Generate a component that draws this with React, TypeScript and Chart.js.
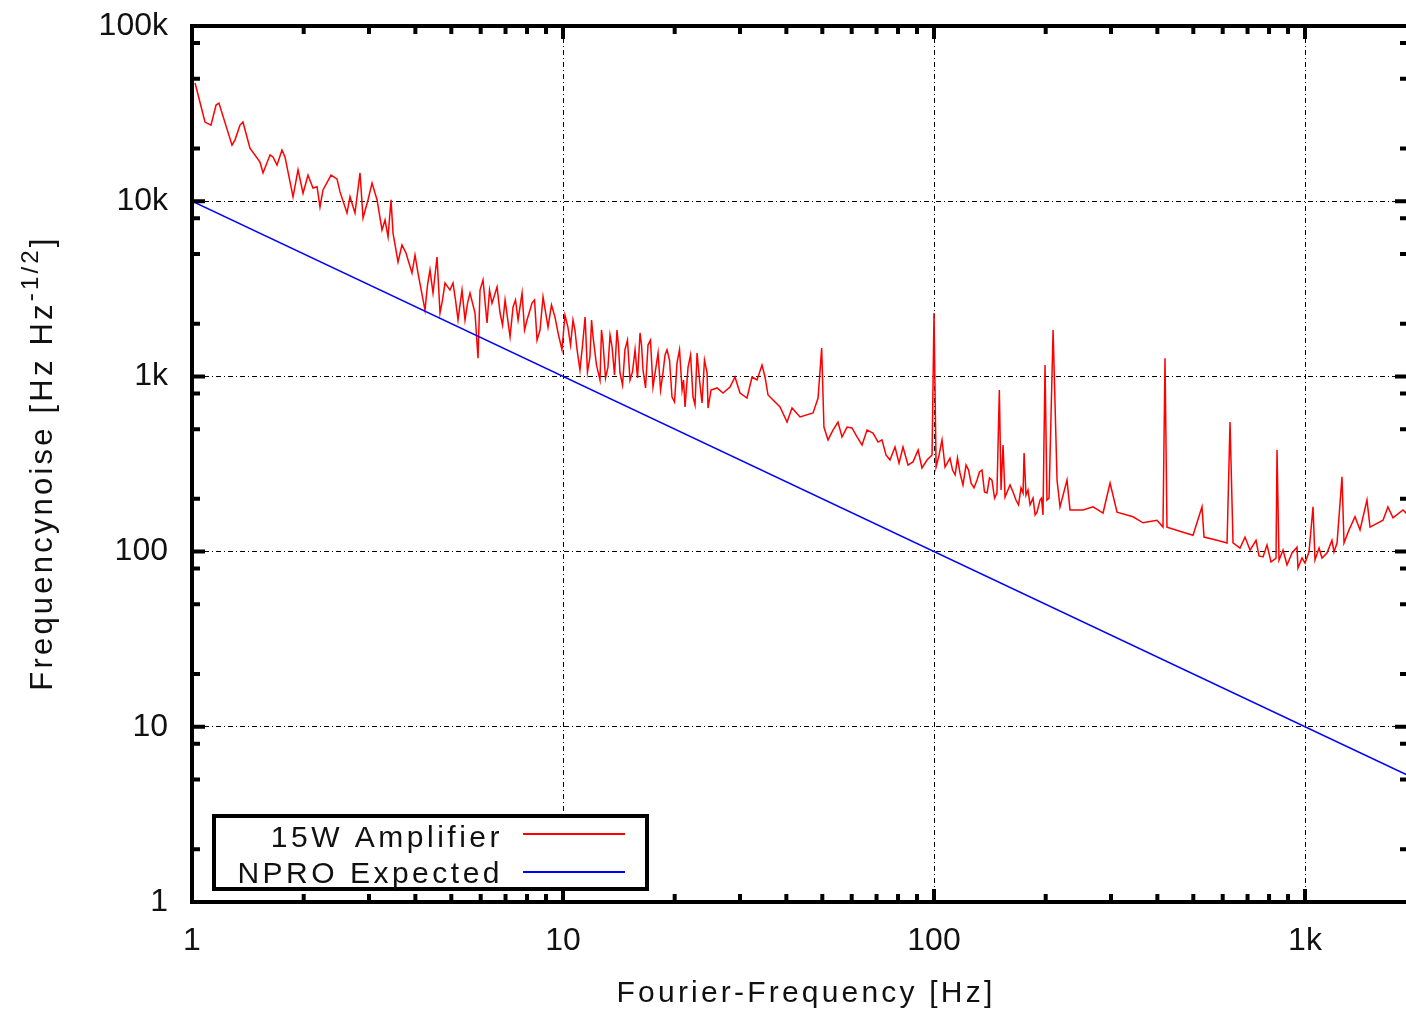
import React, { useEffect, useRef } from "react";
import { Chart, registerables } from "chart.js";

Chart.register(...registerables);

// ---- data ----
// main trace of the 15W amplifier spectrum
const AMP_FREQ = [
  1.019, 1.084, 1.125, 1.161, 1.182, 1.282, 1.306, 1.347, 1.372, 1.433,
  1.525, 1.554, 1.623, 1.653, 1.695, 1.748, 1.781, 1.872, 1.931, 1.992,
  2.054, 2.119, 2.173, 2.213, 2.255, 2.37, 2.459, 2.506, 2.617, 2.666,
  2.75, 2.837, 2.891, 2.982, 3.057, 3.153, 3.252, 3.314, 3.376, 3.439,
  3.482, 3.592, 3.681, 3.774, 3.917, 3.991, 4.066, 4.246, 4.38, 4.463,
  4.575, 4.661, 4.808, 4.959, 5.052, 5.212, 5.343, 5.443, 5.615, 5.792,
  5.901, 5.975, 6.087, 6.24, 6.437, 6.641, 6.766, 6.98, 7.199, 7.335,
  7.566, 7.756, 7.999, 8.251, 8.512, 8.835, 9.112, 9.515, 9.938, 10.31,
  10.64, 10.91, 11.11, 11.47, 11.82, 12.05, 12.58, 12.82, 13.22, 13.56,
  13.98, 14.24, 14.69, 15.16, 15.64, 16.13, 16.43, 16.95, 17.48, 18.04,
  18.6, 19.07, 19.67, 20.29, 20.94, 21.33, 21.73, 22.41, 22.98, 23.7,
  24.45, 24.6, 25.06, 26.01, 27.0, 28.19, 29.08, 30.0, 31.33, 32.32,
  33.34, 34.39, 35.04, 35.7, 38.46, 40.17, 41.43, 43.54, 47.2, 48.69,
  49.8, 50.5, 53.42, 58.29, 62.02, 68.48, 72.41, 76.1, 78.5, 80.5,
  82.49, 85.1, 87.78, 90.6, 92.8, 95.75, 98.8, 100, 101.3, 105.1,
  107.1, 110.4, 114.0, 117.5, 122.0, 125.9, 130.6, 134.7, 139.0, 143.3,
  147.8, 150, 151.6, 153.5, 155.4, 160.3, 166.3, 171.6, 173.8, 174.9,
  177.0, 181.5, 184.9, 189.5, 193.1, 196.7, 199.2, 201.6, 204.2, 209.4,
  214.6, 218.6, 228.3, 232.6, 252.1, 268.3, 285.5, 298.2, 311.4, 343.9,
  365.9, 399.1, 414.2, 419.4, 424.6, 469.1, 499.0, 527.7, 534.3, 579.2,
  616.4, 627.9, 639.7, 668.0, 689.1, 711.0, 737.9, 751.6, 770.6, 789.9,
  809.8, 835.3, 840.5, 851.0, 872.4, 894.4, 922.6, 951.5, 957.4, 981.5,
  1000, 1025, 1051, 1064, 1091, 1111, 1146, 1182, 1197, 1220,
  1258, 1274, 1314, 1364, 1407, 1469, 1497, 1623, 1673, 1727,
  1837, 1895,
];
const AMP_VALUES = [
  47300, 28300, 27200, 35400, 36300, 20900, 22400, 27200, 28300, 20100,
  16700, 14500, 18400, 17900, 16100, 19600, 17900, 10600, 15100, 11100,
  14100, 11900, 12100, 9270, 11600, 14100, 13400, 11300, 8560, 10600,
  8560, 14500, 8020, 10200, 12700, 10200, 6850, 7810, 6250, 10200,
  6580, 4500, 5620, 5060, 3890, 4930, 3890, 2390, 4050, 2990,
  4800, 2300, 3410, 3110, 3410, 2100, 3110, 2100, 2990, 2300,
  1270, 3110, 3550, 2020, 2620, 3240, 2300, 2730, 1680, 2490,
  2100, 2990, 2100, 2620, 1610, 2840, 1910, 2180, 1420, 1910,
  2100, 1420, 1090, 2180, 1290, 1680, 954, 1550, 1130, 1470,
  1840, 1050, 1420, 954, 1420, 1770, 1090, 1510, 870, 1360,
  1050, 1420, 763, 1190, 836, 669, 1130, 763, 1360, 705,
  1050, 660, 836, 859, 804, 870, 992, 804, 753, 992,
  954, 1160, 992, 783, 669, 549, 660, 587, 618, 753,
  1450, 514, 494, 514, 451, 475, 434, 333, 395, 320,
  395, 312, 325, 380, 300, 333, 356, 2300, 304, 434,
  304, 342, 274, 281, 312, 246, 256, 292, 216, 256,
  216, 836, 225, 406, 205, 240, 197, 231, 216, 365,
  210, 185, 202, 168, 197, 162, 1160, 197, 202, 1840,
  256, 180, 256, 173, 173, 180, 166, 246, 168, 158,
  146, 151, 138, 1270, 138, 129, 124, 180, 121, 116,
  112, 549, 112, 104.8, 121, 102, 116, 94.4, 93.2, 109.1,
  87.2, 91.9, 380, 89.6, 102, 83.8, 98.2, 106, 80.6, 91.9,
  86.1, 99.5, 180, 89.6, 104.8, 91.9, 98.2, 116, 99.5, 112,
  267, 112, 133, 158, 133, 197, 138, 151, 180, 156,
  173, 162,
];
// additional readings inside the dense noise bands
const AMP_BAND_FREQ = [
  4.313, 4.734, 5.131, 5.53, 6.338, 6.871, 7.447, 7.876, 8.38, 8.67,
  9.311, 9.725, 10.12, 10.48, 10.77, 11.29, 11.64, 11.94, 12.31, 12.7,
  13.02, 13.39, 13.77, 14.11, 14.47, 14.92, 15.39, 15.88, 16.28, 16.69,
  17.21, 17.76, 18.32, 18.84, 19.37, 19.98, 20.61, 21.13, 22.07, 22.69,
  23.33, 24.06, 51.8, 55.1, 56.5, 60.1, 63.98, 65.99, 70.68, 74.22,
  103.2, 112.2, 115.7, 119.7, 123.9, 128.2, 132.6, 136.8, 141.1, 145.6,
  163.3, 169.0, 179.2, 187.3, 194.9,
];
const AMP_BAND_VALUES = [
  3324, 2730, 2730, 2620, 3110, 1965, 2730, 1840, 2730, 1840,
  2556, 1722, 2241, 1510, 1840, 1510, 1060, 2100, 1160, 1840,
  979, 1722, 1019, 1510, 893, 1610, 1060, 979, 1510, 859,
  1610, 1090, 836, 1325, 1240, 714, 1420, 954, 1325, 687,
  954, 1240, 434, 549, 451, 508, 406, 494, 422, 356,
  356, 292, 342, 240, 292, 231, 285, 219, 263, 202,
  219, 185, 225, 162, 202,
];
const NPRO_FREQ = [1, 2000];
const NPRO_VALUES = [10000, 5];

const SERIES_LABELS = ["15W Amplifier", "NPRO Expected"];
const SERIES_COLORS = ["#ff0000", "#0000ff"];

const X_TICKS = [1, 10, 100, 1000];
const X_TICK_LABELS = ["1", "10", "100", "1k"];
const Y_TICKS = [1, 10, 100, 1000, 10000, 100000];
const Y_TICK_LABELS = ["1", "10", "100", "1k", "10k", "100k"];
const X_MINOR_MULT = [2, 3, 4, 5, 6, 7, 8, 9];
const Y_MINOR_MULT = [2, 5, 8];

const X_TITLE = "Fourier-Frequency [Hz]";
const Y_TITLE_MAIN = "Frequencynoise [Hz Hz";
const Y_TITLE_SUP = "-1/2";
const Y_TITLE_END = "]";

const FONT_FAMILY = '"Liberation Sans", Arial, Helvetica, sans-serif';
const TEXT_COLOR = "#111111";

function ampPoints() {
  const pts = AMP_FREQ.map((f, i) => ({ x: f, y: AMP_VALUES[i] }));
  AMP_BAND_FREQ.forEach((f, i) => pts.push({ x: f, y: AMP_BAND_VALUES[i] }));
  pts.sort((a, b) => a.x - b.x);
  return pts;
}

// ---- plugins ----
const framePlugin = {
  id: "frameTicks",
  afterDatasetsDraw(chart: any) {
    const { ctx, chartArea: a, scales } = chart;
    const xs = scales.x;
    const ys = scales.y;
    ctx.save();
    ctx.strokeStyle = "#000";
    ctx.lineCap = "butt";
    ctx.lineWidth = 4;
    for (const d of X_TICKS) {
      for (const m of [1, ...X_MINOR_MULT]) {
        const v = d * m;
        if (v < xs.min || v > xs.max) continue;
        const p = xs.getPixelForValue(v);
        const len = m === 1 ? 13 : 8;
        ctx.beginPath();
        ctx.moveTo(p, a.bottom);
        ctx.lineTo(p, a.bottom - len);
        ctx.moveTo(p, a.top);
        ctx.lineTo(p, a.top + len);
        ctx.stroke();
      }
    }
    for (const d of Y_TICKS) {
      for (const m of [1, ...Y_MINOR_MULT]) {
        const v = d * m;
        if (v < ys.min || v > ys.max) continue;
        const p = ys.getPixelForValue(v);
        const len = m === 1 ? 13 : 8;
        ctx.beginPath();
        ctx.moveTo(a.left, p);
        ctx.lineTo(a.left + len, p);
        ctx.moveTo(a.right, p);
        ctx.lineTo(a.right - len, p);
        ctx.stroke();
      }
    }
    ctx.strokeRect(a.left, a.top, a.right - a.left, a.bottom - a.top);
    ctx.restore();
  },
};

const titlesPlugin = {
  id: "axisTitles",
  afterDraw(chart: any) {
    const { ctx } = chart;
    ctx.save();
    ctx.fillStyle = TEXT_COLOR;
    ctx.textBaseline = "alphabetic";
    (ctx as any).letterSpacing = "3.2px";
    ctx.font = `30px ${FONT_FAMILY}`;
    ctx.textAlign = "center";
    ctx.fillText(X_TITLE, 806, 1002);
    const mainFont = `31px ${FONT_FAMILY}`;
    const supFont = `24px ${FONT_FAMILY}`;
    ctx.textAlign = "left";
    ctx.font = mainFont;
    const wMain = ctx.measureText(Y_TITLE_MAIN).width;
    const wEnd = ctx.measureText(Y_TITLE_END).width;
    ctx.font = supFont;
    const wSup = ctx.measureText(Y_TITLE_SUP).width;
    const total = wMain + wSup + wEnd;
    ctx.translate(52, 463);
    ctx.rotate(-Math.PI / 2);
    let x0 = -total / 2;
    ctx.font = mainFont;
    ctx.fillText(Y_TITLE_MAIN, x0, 0);
    x0 += wMain;
    ctx.font = supFont;
    ctx.fillText(Y_TITLE_SUP, x0, -14);
    x0 += wSup;
    ctx.font = mainFont;
    ctx.fillText(Y_TITLE_END, x0, 0);
    ctx.restore();
  },
};

const legendPlugin = {
  id: "insideLegend",
  afterDraw(chart: any) {
    const { ctx } = chart;
    const box = { left: 214, top: 816, right: 647, bottom: 889 };
    ctx.save();
    ctx.fillStyle = "#ffffff";
    ctx.fillRect(box.left, box.top, box.right - box.left, box.bottom - box.top);
    ctx.strokeStyle = "#000";
    ctx.lineWidth = 4;
    ctx.strokeRect(box.left, box.top, box.right - box.left, box.bottom - box.top);
    ctx.font = `30px ${FONT_FAMILY}`;
    (ctx as any).letterSpacing = "3.5px";
    ctx.textAlign = "right";
    ctx.textBaseline = "alphabetic";
    ctx.fillStyle = TEXT_COLOR;
    const baselines = [847, 883];
    const lineYs = [834, 872];
    chart.data.datasets.forEach((ds: any, i: number) => {
      ctx.fillText(ds.label, 503, baselines[i]);
      ctx.strokeStyle = ds.borderColor;
      ctx.lineWidth = 2;
      ctx.beginPath();
      ctx.moveTo(523, lineYs[i]);
      ctx.lineTo(625, lineYs[i]);
      ctx.stroke();
    });
    ctx.restore();
  },
};

function ChartView() {
  const ref = useRef<HTMLCanvasElement | null>(null);
  useEffect(() => {
    document.body.style.margin = "0";
    document.body.style.overflow = "hidden";
    const canvas = ref.current;
    if (!canvas) return;
    const tickFont = { family: FONT_FAMILY, size: 32 };
    const chart = new Chart(canvas, {
      type: "line",
      data: {
        datasets: [
          {
            label: SERIES_LABELS[0],
            data: ampPoints(),
            borderColor: SERIES_COLORS[0],
            backgroundColor: SERIES_COLORS[0],
            borderWidth: 1.5,
            pointRadius: 0,
            tension: 0,
            fill: false,
            order: 1,
          },
          {
            label: SERIES_LABELS[1],
            data: NPRO_FREQ.map((f, i) => ({ x: f, y: NPRO_VALUES[i] })),
            borderColor: SERIES_COLORS[1],
            backgroundColor: SERIES_COLORS[1],
            borderWidth: 1.5,
            pointRadius: 0,
            tension: 0,
            fill: false,
            order: 0,
          },
        ],
      },
      options: {
        responsive: false,
        animation: false,
        devicePixelRatio: 1,
        layout: { padding: { left: 0, top: 26, right: 12, bottom: 0 } },
        plugins: {
          legend: { display: false },
          tooltip: { enabled: false },
          title: { display: false },
        },
        scales: {
          x: {
            type: "logarithmic",
            min: 1,
            max: 1895,
            afterBuildTicks: (s: any) => {
              s.ticks = X_TICKS.map((v) => ({ value: v }));
            },
            afterFit: (s: any) => {
              s.height = 115;
              s.paddingLeft = 0;
              s.paddingRight = 0;
            },
            ticks: {
              autoSkip: false,
              maxRotation: 0,
              padding: 20,
              color: TEXT_COLOR,
              font: tickFont,
              callback: (v: any) => {
                const i = X_TICKS.indexOf(Number(v));
                return i >= 0 ? X_TICK_LABELS[i] : "";
              },
            },
            grid: { color: "#000", lineWidth: 1, drawTicks: false },
            border: { display: false, dash: [5, 3, 1, 3] },
          },
          y: {
            type: "logarithmic",
            min: 1,
            max: 100000,
            afterBuildTicks: (s: any) => {
              s.ticks = Y_TICKS.map((v) => ({ value: v }));
            },
            afterFit: (s: any) => {
              s.width = 192;
              s.paddingTop = 0;
              s.paddingBottom = 0;
            },
            ticks: {
              autoSkip: false,
              padding: 24,
              color: TEXT_COLOR,
              font: tickFont,
              callback: (v: any) => {
                const i = Y_TICKS.indexOf(Number(v));
                return i >= 0 ? Y_TICK_LABELS[i] : "";
              },
            },
            grid: { color: "#000", lineWidth: 1, drawTicks: false },
            border: { display: false, dash: [5, 3, 1, 3] },
          },
        },
      } as any,
      plugins: [framePlugin, titlesPlugin, legendPlugin],
    });
    return () => chart.destroy();
  }, []);
  return <canvas ref={ref} width={1420} height={1017} style={{ display: "block" }} />;
}

export default function App() {
  return <ChartView />;
}
